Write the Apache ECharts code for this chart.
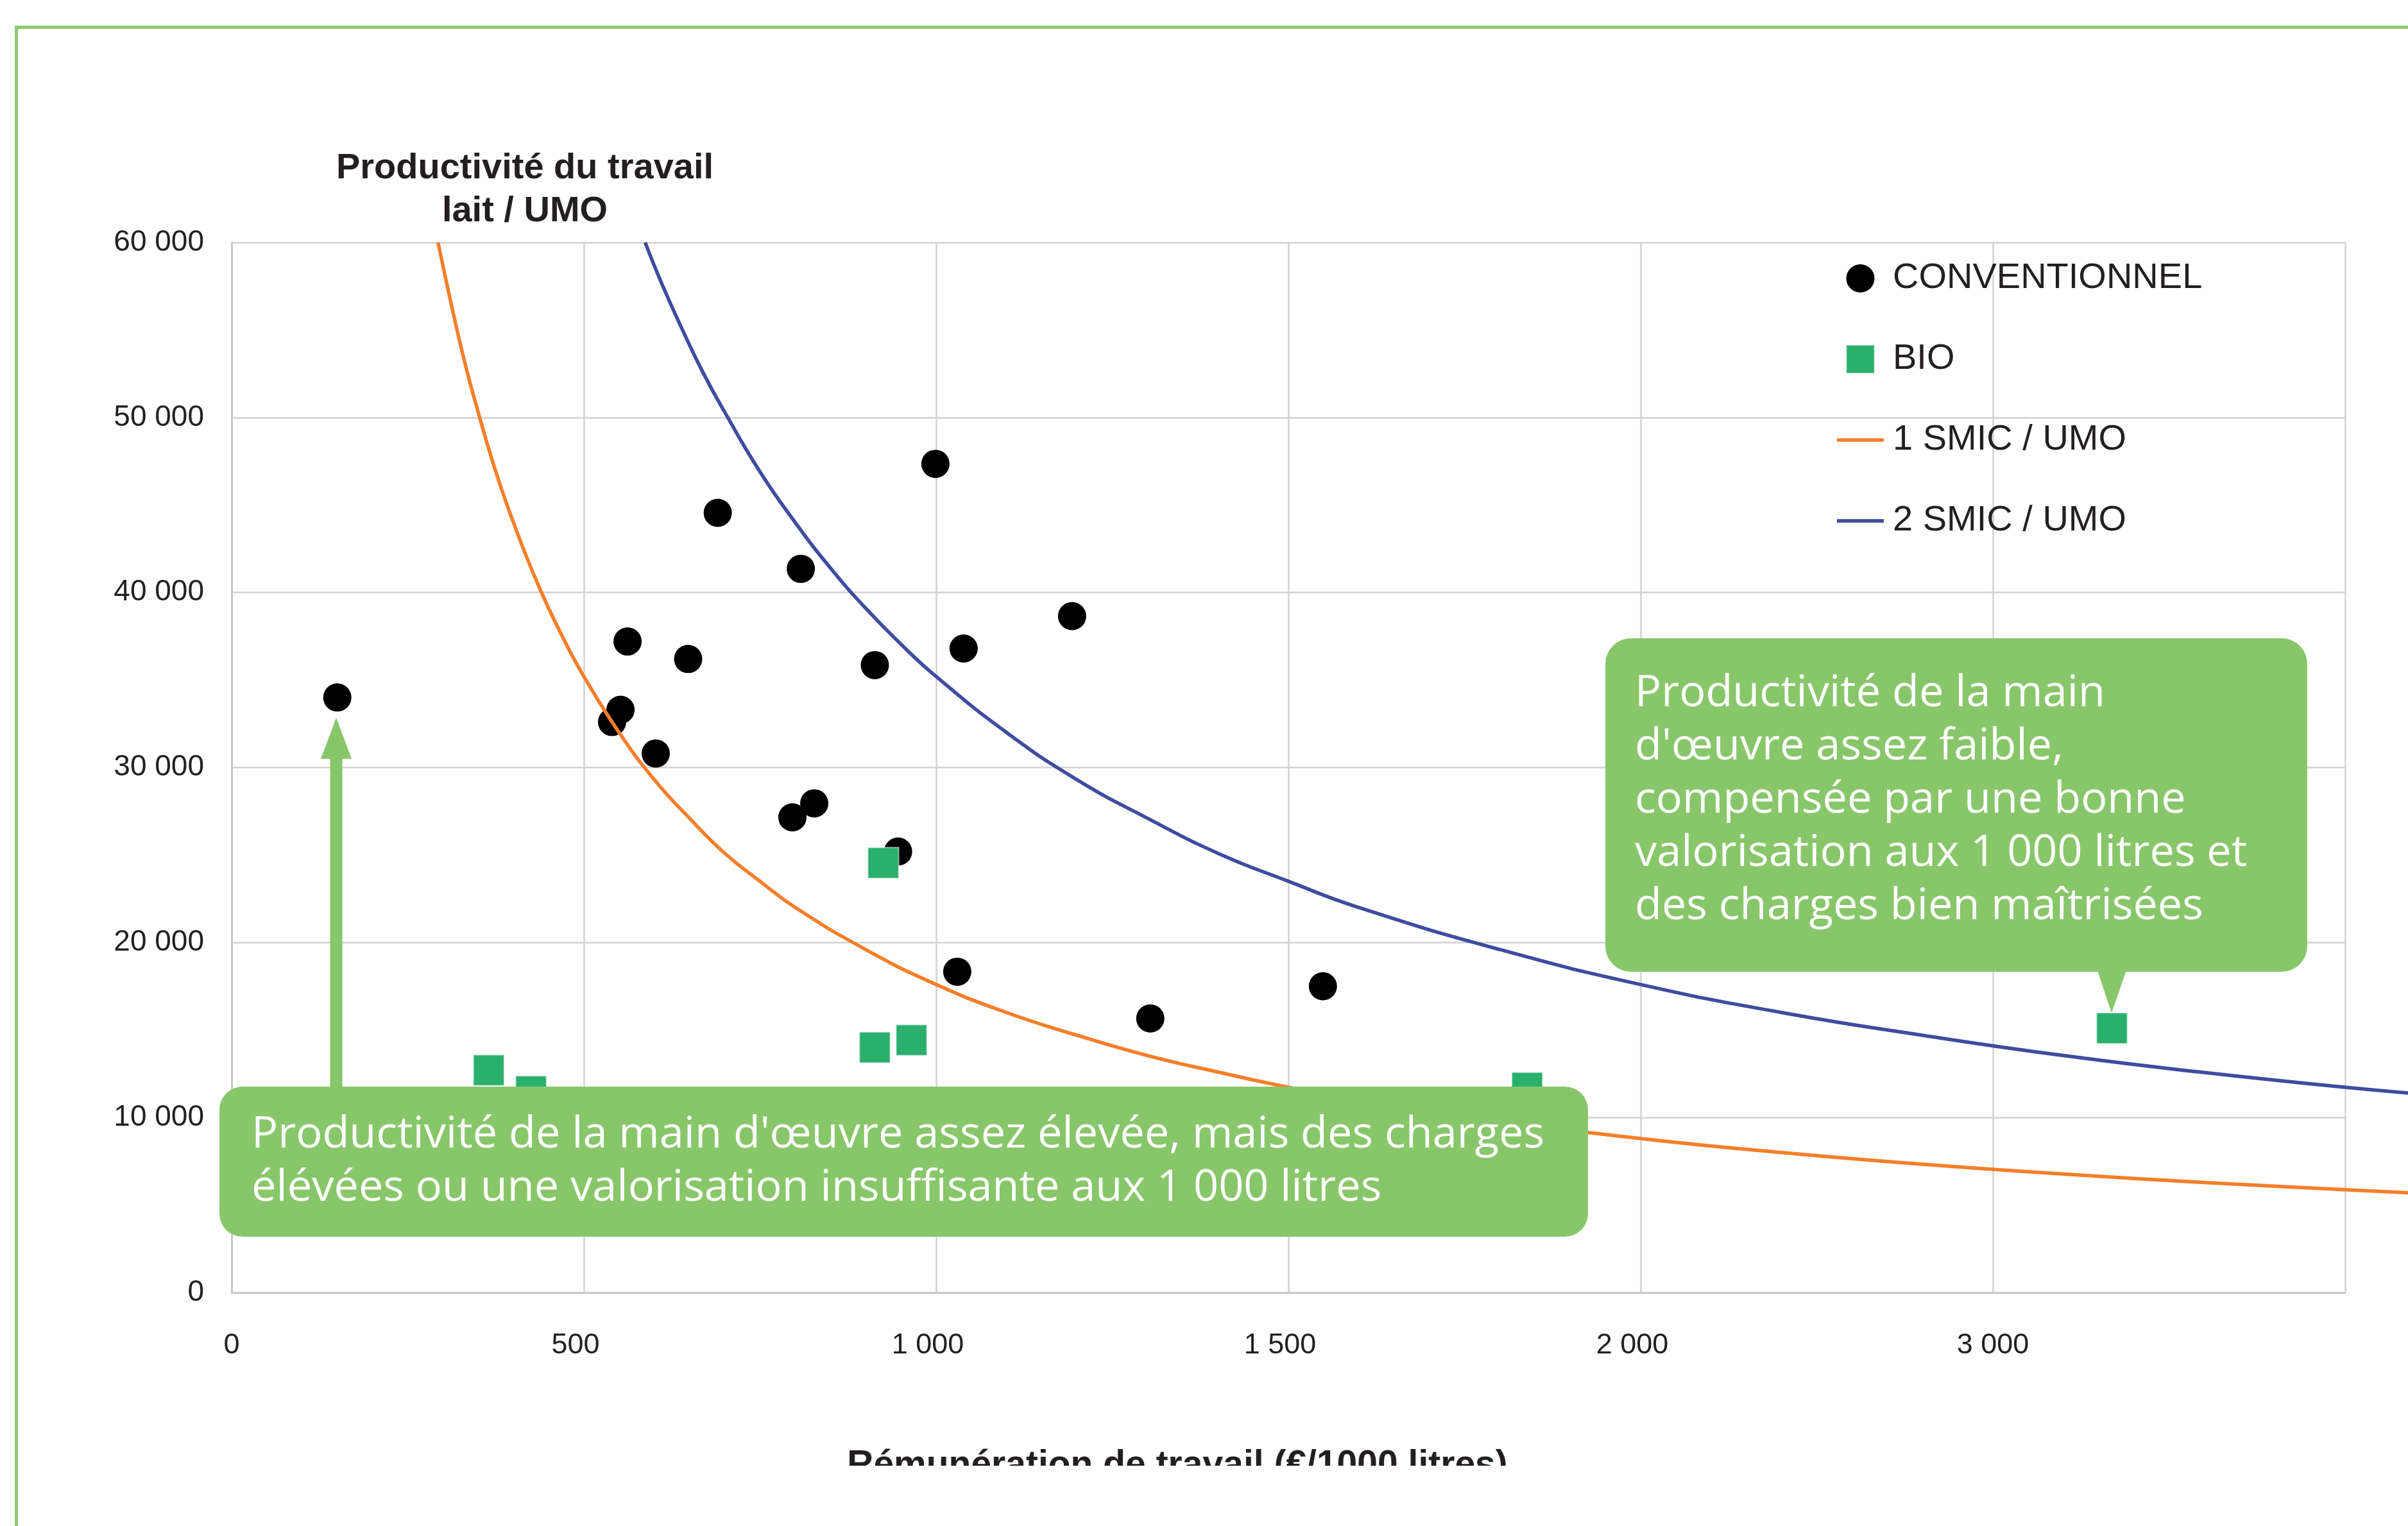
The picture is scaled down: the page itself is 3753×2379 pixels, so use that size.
<!DOCTYPE html>
<html><head><meta charset="utf-8">
<script src="https://cdn.jsdelivr.net/npm/echarts@6/dist/echarts.min.js"></script>
<style>html,body{margin:0;padding:0;background:#fff}#c{width:3753px;height:2379px}</style>
</head><body><div id="c"></div>
<script>
// ---- data ----
const xTickLabels = ['0', '500', '1 000', '1 500', '2 000', '3 000', ''];
const convX = [150, 690, 808, 562, 648, 552, 540, 602, 796, 827, 999, 1193, 1039, 913, 946, 1030, 1304, 1549];
const convY = [34000, 44550, 41350, 37200, 36200, 33300, 32600, 30800, 27150, 27950, 47350, 38650, 36800, 35850, 25200, 18330, 15660, 17500];
const bioX = [365, 425, 913, 965, 925, 1839, 2669];
const bioY = [12700, 11500, 14000, 14420, 24550, 11700, 15100];
const smic1X = [293, 310, 330, 350, 375, 400, 425, 450, 475, 500, 550, 600, 650, 700, 750, 800, 900, 1000, 1100, 1200, 1300, 1400, 1500, 1600, 1800, 2000, 2200, 2400, 2600, 2800, 3000, 3090];
const smic1Y = [60000, 56800, 53300, 50300, 46900, 44000, 41400, 39100, 37050, 35200, 32000, 29300, 27100, 25100, 23500, 22000, 19600, 17600, 16000, 14700, 13540, 12600, 11730, 11000, 9800, 8800, 8000, 7330, 6770, 6290, 5870, 5700];
const smic2X = [587, 610, 640, 670, 700, 750, 800, 850, 900, 950, 1000, 1100, 1200, 1300, 1400, 1500, 1600, 1800, 2000, 2200, 2400, 2600, 2800, 3000, 3090];
const smic2Y = [60000, 57700, 55000, 52500, 50300, 46900, 44000, 41400, 39100, 37050, 35200, 32000, 29300, 27100, 25100, 23500, 22000, 19600, 17600, 16000, 14700, 13540, 12570, 11730, 11400];
const seriesNames = ['CONVENTIONNEL', 'BIO', '1 SMIC / UMO', '2 SMIC / UMO'];
const titleText = 'Productivité du travail\nlait / UMO';
const xName = 'Rémunération de travail (€/1000 litres)';
const note1 = "Productivité de la main d'œuvre assez élevée, mais des charges\nélévées ou une valorisation insuffisante aux 1 000 litres";
const note2 = "Productivité de la main\nd'œuvre assez faible,\ncompensée par une bonne\nvalorisation aux 1 000 litres et\ndes charges bien maîtrisées";

// ---- helpers ----
const zip = (a, b) => a.map((v, i) => [v, b[i]]);
const fmtThousands = v => String(v).replace(/\B(?=(\d{3})+(?!\d))/g, ' ');

const W = 3753;
const GL = 361, GR = 98, GT = 378, GB = 364;
const X_MAX = 3000;
// second (hidden) grid runs to the right edge of the picture so the curves continue past the plot border
const X_MAX_EXT = X_MAX * (W - GL) / (W - GR - GL);

const FONT = '"Liberation Sans", Arial, sans-serif';
const TXT = '#231f20';
const GREEN = '#88c66a';
const GRID = '#d2d2d2';
const ORANGE = '#f47f2a';
const BLUE = '#3f4c9f';
const BIOC = '#2aaf6c';

const chart = echarts.init(document.getElementById('c'), null, {renderer: 'canvas'});
chart.setOption({
  animation: false,
  backgroundColor: '#ffffff',
  title: {
    text: titleText, left: 818, top: 229, textAlign: 'center', padding: 0,
    textStyle: {fontFamily: FONT, fontSize: 56, fontWeight: 'bold', color: TXT, lineHeight: 67}
  },
  grid: [
    {left: GL, right: GR, top: GT, bottom: GB, containLabel: false},
    {left: GL, right: 0, top: GT, bottom: GB, containLabel: false}
  ],
  legend: {
    orient: 'vertical', left: 2863, top: 406, padding: 0,
    itemWidth: 73, itemHeight: 44, itemGap: 70,
    textStyle: {fontFamily: FONT, fontSize: 56, color: TXT, lineHeight: 56, padding: [0, 0, 0, 9]},
    data: [
      {name: seriesNames[0], icon: 'circle', itemStyle: {color: '#000000', opacity: 1}},
      {name: seriesNames[1], icon: 'path://M0,0H10V10H0Z', itemStyle: {color: BIOC, opacity: 1}},
      {name: seriesNames[2], icon: 'path://M0,0H73V5.5H0Z', itemStyle: {color: ORANGE}},
      {name: seriesNames[3], icon: 'path://M0,0H73V5.5H0Z', itemStyle: {color: BLUE}}
    ]
  },
  xAxis: [
    {
      type: 'value', min: 0, max: X_MAX, interval: 500, gridIndex: 0,
      axisLine: {show: true, lineStyle: {color: '#c8c8c8', width: 3}},
      axisTick: {show: false},
      splitLine: {show: true, lineStyle: {color: GRID, width: 2.5}},
      axisLabel: {
        formatter: v => {
          const i = Math.round(v / 500);
          const t = xTickLabels[i];
          if (!t) return '';
          return (i >= 1 && i <= 4) ? '{s|' + t + '}' : '{c|' + t + '}';
        },
        rich: {
          s: {fontFamily: FONT, fontSize: 45, color: TXT, lineHeight: 45, padding: [0, 26, 0, 0]},
          c: {fontFamily: FONT, fontSize: 45, color: TXT, lineHeight: 45}
        },
        fontFamily: FONT, fontSize: 45, color: TXT, margin: 60, lineHeight: 45
      },
      name: xName, nameLocation: 'middle', nameGap: 242,
      nameTextStyle: {fontFamily: FONT, fontSize: 57, fontWeight: 'bold', color: TXT, padding: [0, 346, 0, 0]}
    },
    {type: 'value', min: 0, max: X_MAX_EXT, gridIndex: 1, show: false, splitLine: {show: false}}
  ],
  yAxis: [
    {
      type: 'value', min: 0, max: 60000, interval: 10000, gridIndex: 0,
      axisLine: {show: true, lineStyle: {color: '#c8c8c8', width: 3}},
      axisTick: {show: false},
      splitLine: {show: true, lineStyle: {color: GRID, width: 2.5}},
      axisLabel: {formatter: v => fmtThousands(v), fontFamily: FONT, fontSize: 46, color: TXT, margin: 43}
    },
    {type: 'value', min: 0, max: 60000, gridIndex: 1, show: false, splitLine: {show: false}}
  ],
  series: [
    {
      name: seriesNames[0], type: 'scatter', symbol: 'circle', symbolSize: 44,
      itemStyle: {color: '#000000', opacity: 1}, data: zip(convX, convY)
    },
    {
      name: seriesNames[1], type: 'scatter', symbol: 'rect', symbolSize: 48,
      itemStyle: {color: BIOC, opacity: 1, borderColor: 'rgba(255,255,255,0.5)', borderWidth: 2},
      data: zip(bioX, bioY)
    },
    {
      name: seriesNames[2], type: 'line', xAxisIndex: 1, yAxisIndex: 1,
      symbol: 'none', showSymbol: false, smooth: true, color: ORANGE,
      lineStyle: {color: ORANGE, width: 5.5}, data: zip(smic1X, smic1Y)
    },
    {
      name: seriesNames[3], type: 'line', xAxisIndex: 1, yAxisIndex: 1,
      symbol: 'none', showSymbol: false, smooth: true, color: BLUE,
      lineStyle: {color: BLUE, width: 5.5}, data: zip(smic2X, smic2Y)
    }
  ],
  graphic: [
    // outer green frame
    {type: 'polyline', z: 100, shape: {points: [[25.5, 2379], [25.5, 42.5], [3753, 42.5]]},
     style: {stroke: '#8cc86d', lineWidth: 5, fill: null}},
    // mask cutting the bottom of the axis name, as in the source picture
    {type: 'rect', z: 100, shape: {x: 30, y: 2285, width: 3723, height: 94}, style: {fill: '#ffffff'}},
    // arrow
    {type: 'rect', z: 100, shape: {x: 514.5, y: 1175, width: 19, height: 530}, style: {fill: GREEN}},
    {type: 'polygon', z: 100, shape: {points: [[524, 1119], [500, 1183], [548, 1183]]}, style: {fill: GREEN}},
    // callout 1
    {type: 'rect', z: 100, shape: {x: 342, y: 1694, width: 2133, height: 234, r: 36}, style: {fill: GREEN}},
    {type: 'text', z: 101, x: 392, y: 1728,
     style: {text: note1, fill: '#ffffff', fontFamily: '"Open Sans", sans-serif', fontSize: 68.5, lineHeight: 83, align: 'left', verticalAlign: 'top'}},
    // callout 2
    {type: 'rect', z: 100, shape: {x: 2502, y: 995, width: 1094, height: 520, r: 40}, style: {fill: GREEN}},
    {type: 'polygon', z: 100, shape: {points: [[3268, 1510], [3315, 1510], [3291, 1579]]}, style: {fill: GREEN}},
    {type: 'text', z: 101, x: 2548, y: 1040,
     style: {text: note2, fill: '#ffffff', fontFamily: '"Open Sans", sans-serif', fontSize: 68.5, lineHeight: 83, align: 'left', verticalAlign: 'top'}}
  ]
});
</script>
</body></html>
